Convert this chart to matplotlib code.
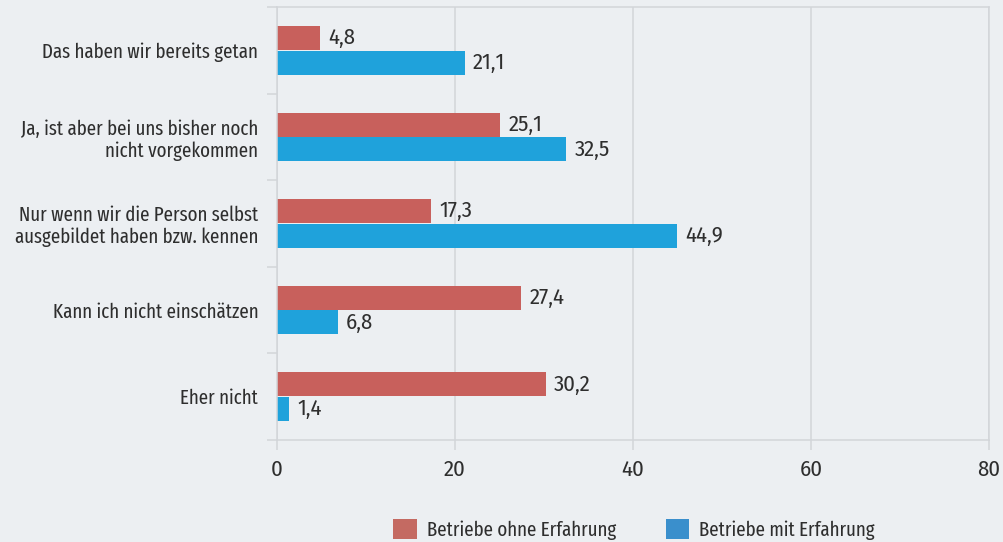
import matplotlib
matplotlib.use("Agg")
import matplotlib.pyplot as plt
from matplotlib.patches import Patch
from matplotlib import font_manager as fm

categories = [
    "Das haben wir bereits getan",
    "Ja, ist aber bei uns bisher noch\nnicht vorgekommen",
    "Nur wenn wir die Person selbst\nausgebildet haben bzw. kennen",
    "Kann ich nicht einschätzen",
    "Eher nicht",
]
ohne_erfahrung = [4.8, 25.1, 17.3, 27.4, 30.2]
mit_erfahrung = [21.1, 32.5, 44.9, 6.8, 1.4]
series_names = ["Betriebe ohne Erfahrung", "Betriebe mit Erfahrung"]
x_ticks = [0, 20, 40, 60, 80]

names = {f.name for f in fm.fontManager.ttflist}
fam = [n for n in ["Fira Sans Extra Condensed", "Fira Sans Condensed", "DejaVu Sans"] if n in names]
numfam = [n for n in ["Fira Sans Condensed", "Fira Sans Extra Condensed", "DejaVu Sans"] if n in names]
plt.rcParams["font.family"] = fam

BG = "#ECEFF2"
RED = "#C8605C"
BLUE = "#1FA2DB"
GRID = "#D2D5D9"
TXT = "#2E2E2E"
FS = 14.8
NFS = 16.3

fig = plt.figure(figsize=(10.04, 5.42), dpi=100, facecolor=BG)
ax = fig.add_axes([277/1004, 1-440/542, (989-277)/1004, (440-7)/542])
ax.set_facecolor(BG)

y = list(range(len(categories)))
h = 0.277
off = 0.143
yr = [v - off for v in y]
yb = [v + off for v in y]
b1 = ax.barh(yr, ohne_erfahrung, height=h, color=RED, zorder=3)
b2 = ax.barh(yb, mit_erfahrung, height=h, color=BLUE, zorder=3)

for bars, vals in ((b1, ohne_erfahrung), (b2, mit_erfahrung)):
    for rect, v in zip(bars, vals):
        ax.annotate(f"{v:.1f}".replace(".", ","),
                    (rect.get_width(), rect.get_y() + rect.get_height()/2),
                    xytext=(6, 0), textcoords="offset points",
                    va="center", ha="left", fontsize=NFS, color=TXT,
                    family=numfam)

ax.set_xlim(0, 80)
ax.set_ylim(len(categories) - 0.5, -0.5)
ax.set_xticks(x_ticks)
ax.set_xticklabels([str(t) for t in x_ticks], fontsize=NFS, color=TXT, family=numfam)
ax.set_yticks(y)
ax.set_yticklabels(categories, fontsize=FS, color=TXT, linespacing=1.15)
ax.set_yticks([i - 0.5 for i in range(len(categories) + 1)], minor=True)
ax.tick_params(axis="y", which="major", length=0, pad=13.5)
ax.tick_params(axis="y", which="minor", length=7.2, width=1.1, color=GRID)
ax.tick_params(axis="x", length=7.2, width=1.1, color=GRID, pad=6.5)
ax.grid(axis="x", color=GRID, linewidth=1.1, zorder=0)
for s in ax.spines.values():
    s.set_color(GRID)
    s.set_linewidth(1.1)
ax.spines["left"].set_zorder(4)

handles = [Patch(facecolor="#C46A62"), Patch(facecolor="#3A8FCC")]
fig.legend(handles, series_names, loc="upper left",
           bbox_to_anchor=(393/1004, 1-519/542), ncol=2, frameon=False,
           fontsize=FS, handlelength=1.15, handleheight=1.15, handletextpad=0.5,
           columnspacing=2.4, borderpad=0, borderaxespad=0,
           labelcolor=TXT)

fig.savefig("out.png", dpi=100, facecolor=BG)
